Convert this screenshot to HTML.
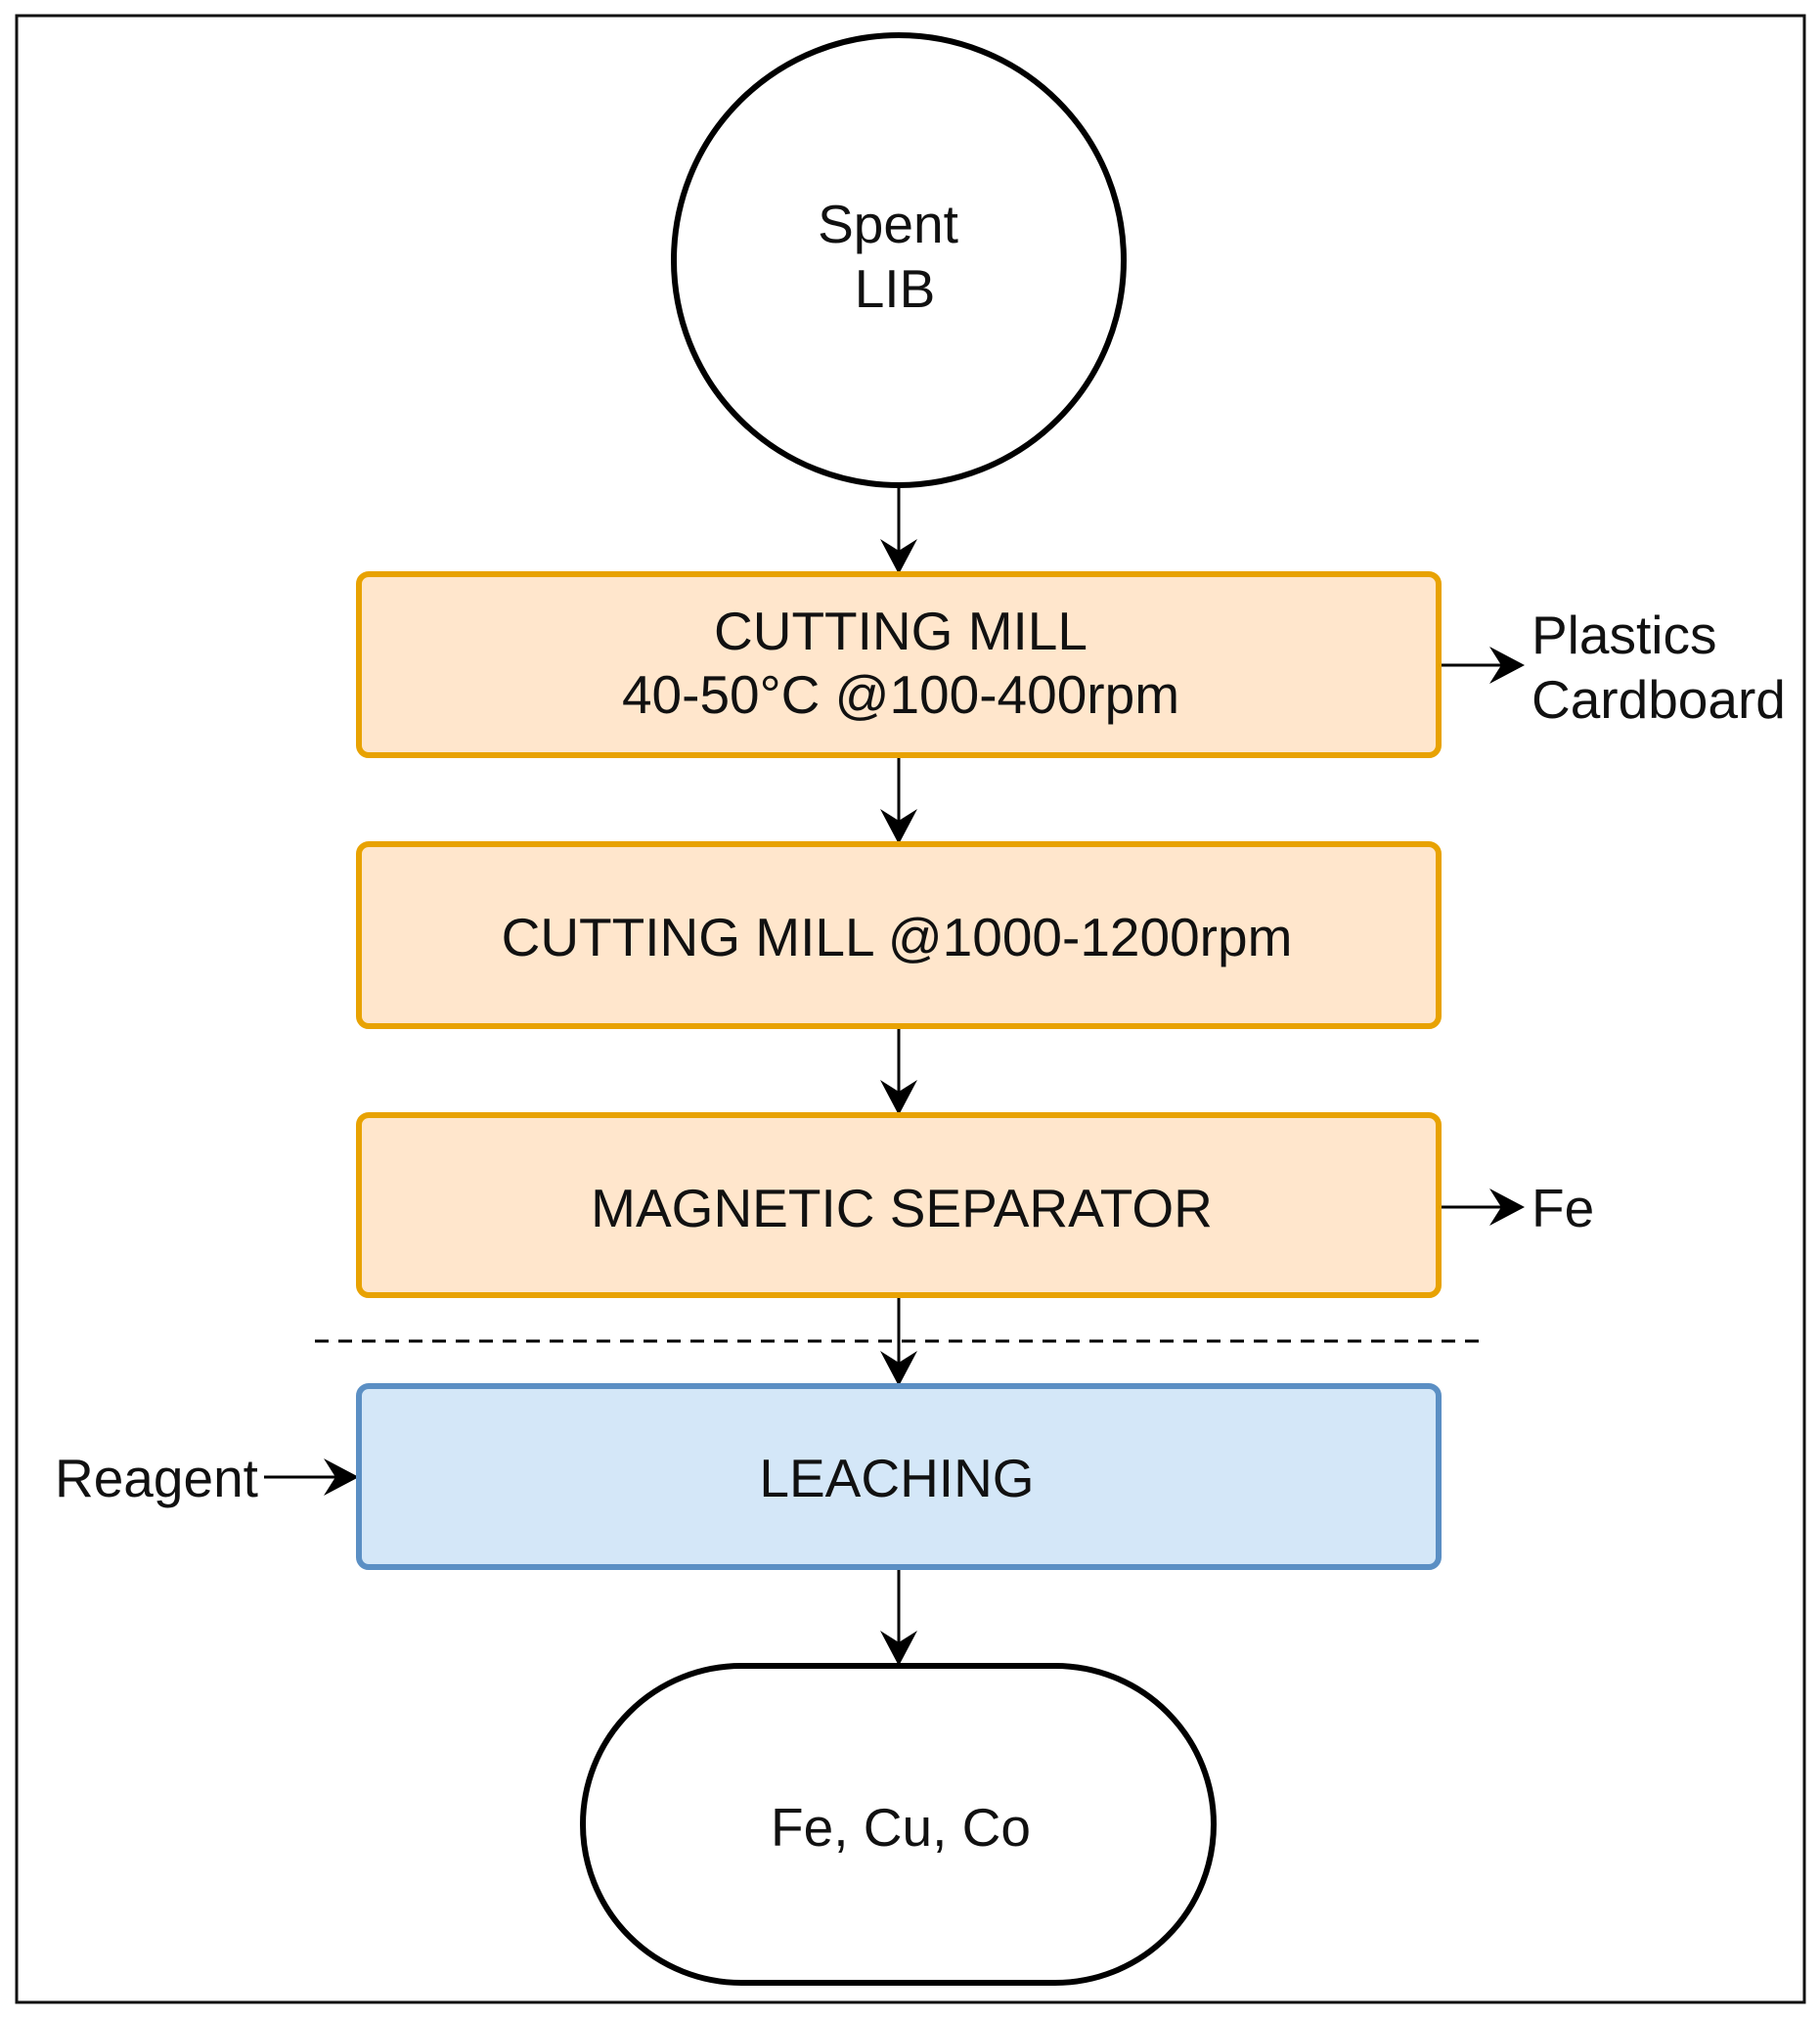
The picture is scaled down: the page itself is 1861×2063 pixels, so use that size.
<!DOCTYPE html>
<html><head><meta charset="utf-8"><style>
html,body{margin:0;padding:0;background:#fff;}
svg{display:block;}
text{font-family:"Liberation Sans",Arial,sans-serif;font-size:55px;fill:#111;}
</style></head><body>
<svg width="1861" height="2063" viewBox="0 0 1861 2063" xmlns="http://www.w3.org/2000/svg">
<rect x="17" y="16" width="1828" height="2031" fill="#fff" stroke="#111" stroke-width="3"/>
<circle cx="919" cy="266" r="230" fill="#fff" stroke="#000" stroke-width="6"/>
<text x="908" y="248" text-anchor="middle">Spent</text>
<text x="915" y="314" text-anchor="middle">LIB</text>
<g stroke="#000" stroke-width="3" fill="none">
<line x1="919" y1="497" x2="919" y2="583"/>
<line x1="919" y1="774" x2="919" y2="859"/>
<line x1="919" y1="1051" x2="919" y2="1136"/>
<line x1="919" y1="1326" x2="919" y2="1413"/>
<line x1="919" y1="1604" x2="919" y2="1699"/>
<line x1="1473" y1="680" x2="1555" y2="680"/>
<line x1="1473" y1="1234" x2="1555" y2="1234"/>
<line x1="270" y1="1510" x2="363" y2="1510"/>
</g>
<g fill="#000">
<path d="M919,587 l-19,-36 l19,12 l19,-12z"/>
<path d="M919,863 l-19,-36 l19,12 l19,-12z"/>
<path d="M919,1140 l-19,-36 l19,12 l19,-12z"/>
<path d="M919,1417 l-19,-36 l19,12 l19,-12z"/>
<path d="M919,1703 l-19,-36 l19,12 l19,-12z"/>
<path d="M1559,680 l-36,-19 l12,19 l-12,19z"/>
<path d="M1559,1234 l-36,-19 l12,19 l-12,19z"/>
<path d="M367,1510 l-36,-19 l12,19 l-12,19z"/>
</g>
<rect x="367" y="587" width="1104" height="185" rx="10" fill="#FFE6CC" stroke="#E8A202" stroke-width="6"/>
<rect x="367" y="863" width="1104" height="186" rx="10" fill="#FFE6CC" stroke="#E8A202" stroke-width="6"/>
<rect x="367" y="1140" width="1104" height="184" rx="10" fill="#FFE6CC" stroke="#E8A202" stroke-width="6"/>
<rect x="367" y="1417" width="1104" height="185" rx="10" fill="#D4E7F8" stroke="#5B8FC4" stroke-width="6"/>
<line x1="322" y1="1371" x2="1520" y2="1371" stroke="#000" stroke-width="3" stroke-dasharray="14,10"/>
<rect x="596" y="1703" width="645" height="324" rx="162" fill="#fff" stroke="#000" stroke-width="6"/>
<text x="921" y="664" text-anchor="middle">CUTTING MILL</text>
<text x="921" y="729" text-anchor="middle">40-50°C @100-400rpm</text>
<text x="917" y="977" text-anchor="middle">CUTTING MILL @1000-1200rpm</text>
<text x="922" y="1254" text-anchor="middle">MAGNETIC SEPARATOR</text>
<text x="917" y="1530" text-anchor="middle">LEACHING</text>
<text x="921" y="1887" text-anchor="middle">Fe, Cu, Co</text>
<text x="1566" y="668">Plastics</text>
<text x="1566" y="734">Cardboard</text>
<text x="1566" y="1254">Fe</text>
<text x="56" y="1530">Reagent</text>
</svg>
</body></html>
